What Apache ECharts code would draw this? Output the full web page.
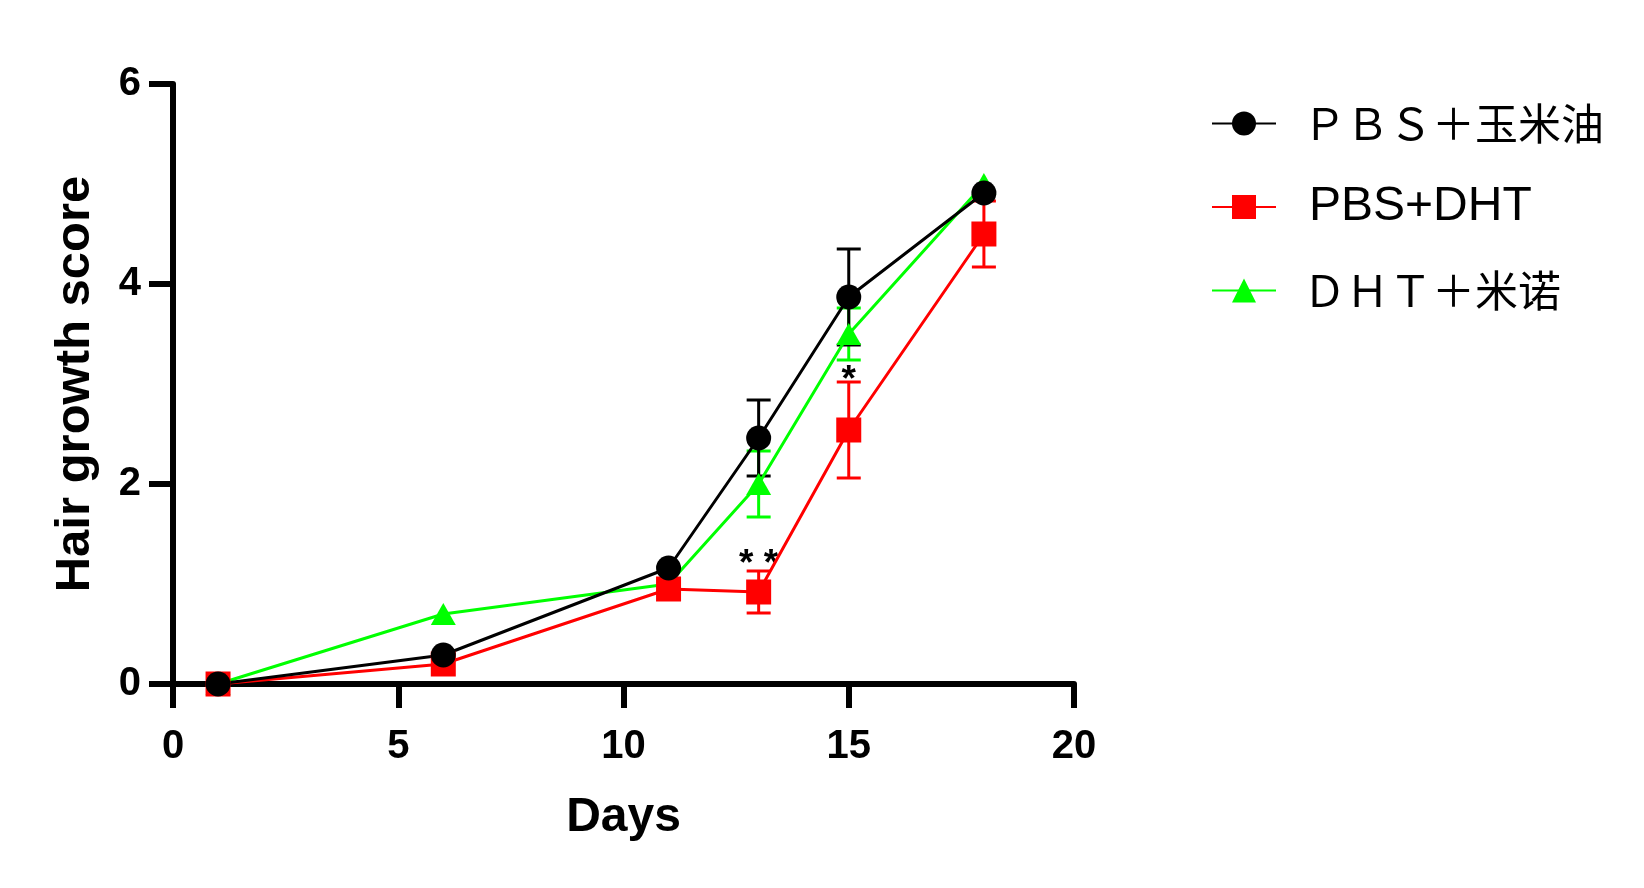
<!DOCTYPE html>
<html>
<head>
<meta charset="utf-8">
<script src="https://cdn.jsdelivr.net/npm/echarts@6/dist/echarts.min.js"></script>
<style>
html,body{margin:0;padding:0;background:#fff;}
#chart{width:1644px;height:888px;}
</style>
</head>
<body>
<div id="chart"></div>
<script>
// ---- data ----
const days = [1, 6, 11, 13, 15, 18];
const seriesNames = ['ＰＢＳ＋玉米油', 'PBS+DHT', 'ＤＨＴ＋米诺'];
const pbsOilMean = [0, 0.29, 1.16, 2.46, 3.87, 4.91];
const pbsOilErr  = [0, 0, 0, 0.38, 0.48, 0];
const pbsDhtMean = [0, 0.20, 0.95, 0.92, 2.54, 4.50];
const pbsDhtErr  = [0, 0, 0, 0.21, 0.48, 0.33];
const dhtMinoMean = [0, 0.70, 1.00, 2.00, 3.50, 5.00];
const dhtMinoErr  = [0, 0, 0, 0.33, 0.26, 0];
const annotDays = [13, 15];
const annotY = [1.27, 3.11];
const annotText = ['* *', '*'];
const xTicks = { min: 0, max: 20, interval: 5 };
const yTicks = { min: 0, max: 6, interval: 2 };

const colors = { oil: '#000000', dht: '#ff0000', mino: '#00ff00' };
const FONT = '"Liberation Sans", Arial, sans-serif';

function pairs(means) { return days.map((d, i) => [d, means[i]]); }
function errData(means, errs) {
  return days.map((d, i) => [d, means[i] - errs[i], means[i] + errs[i], errs[i]]);
}
function errSeries(name, means, errs, color) {
  return {
    type: 'custom',
    name: name + '_err',
    data: errData(means, errs),
    encode: { x: 0, y: [1, 2] },
    silent: true,
    renderItem: function (params, api) {
      if (api.value(3) <= 0) return null;
      const x = api.value(0);
      const lo = api.coord([x, api.value(1)]);
      const hi = api.coord([x, api.value(2)]);
      const hw = 12;
      const st = { stroke: color, lineWidth: 3 };
      return {
        type: 'group',
        children: [
          { type: 'line', shape: { x1: lo[0], y1: lo[1], x2: hi[0], y2: hi[1] }, style: st },
          { type: 'line', shape: { x1: lo[0] - hw, y1: lo[1], x2: lo[0] + hw, y2: lo[1] }, style: st },
          { type: 'line', shape: { x1: hi[0] - hw, y1: hi[1], x2: hi[0] + hw, y2: hi[1] }, style: st }
        ]
      };
    }
  };
}
function lineSeries(name, means, color, symbol, size) {
  return {
    type: 'line',
    name: name,
    data: pairs(means),
    symbol: symbol,
    symbolSize: size,
    showSymbol: true,
    lineStyle: { color: color, width: 3 },
    itemStyle: { color: color, opacity: 1 },
    emphasis: { disabled: true },
    animation: false
  };
}

const chart = echarts.init(document.getElementById('chart'), null, { renderer: 'canvas' });
const option = {
  animation: false,
  backgroundColor: '#ffffff',
  grid: { left: 173, right: 570, top: 84, bottom: 204, containLabel: false },
  xAxis: {
    type: 'value',
    min: xTicks.min, max: xTicks.max, interval: xTicks.interval,
    name: 'Days', nameLocation: 'middle', nameGap: 110,
    nameTextStyle: { fontSize: 48, fontWeight: 'bold', color: '#000', fontFamily: FONT },
    axisLine: { show: true, onZero: false, lineStyle: { color: '#000', width: 6 } },
    axisTick: { show: true, inside: false, length: 24, lineStyle: { color: '#000', width: 6 } },
    axisLabel: { margin: 43, fontSize: 40, fontWeight: 'bold', color: '#000', fontFamily: FONT },
    splitLine: { show: false }
  },
  yAxis: {
    type: 'value',
    min: yTicks.min, max: yTicks.max, interval: yTicks.interval,
    name: 'Hair growth score', nameLocation: 'middle', nameGap: 73, nameRotate: 90,
    nameTextStyle: { fontSize: 49, fontWeight: 'bold', color: '#000', fontFamily: FONT },
    axisLine: { show: true, onZero: false, lineStyle: { color: '#000', width: 6 } },
    axisTick: { show: true, inside: false, length: 24, lineStyle: { color: '#000', width: 6 } },
    axisLabel: { margin: 32, fontSize: 40, fontWeight: 'bold', color: '#000', fontFamily: FONT },
    splitLine: { show: false }
  },
  legend: {
    orient: 'vertical',
    left: 1211, top: 102,
    padding: 0,
    itemWidth: 64, itemHeight: 30, itemGap: 38,
    data: seriesNames,
    selectedMode: false,
    formatter: function (name) {
      return name === 'PBS+DHT' ? '{en|' + name + '}' : '{cn|' + name + '}';
    },
    textStyle: {
      color: '#000',
      rich: {
        en: { fontSize: 48, fontFamily: FONT, color: '#000', padding: [0, 0, 0, 28], lineHeight: 54 },
        cn: { fontSize: 43, fontFamily: '"Noto Sans CJK SC", sans-serif', color: '#000', padding: [0, 0, 0, 22], lineHeight: 54 }
      }
    }
  },
  series: [
    errSeries('mino', dhtMinoMean, dhtMinoErr, colors.mino),
    lineSeries(seriesNames[2], dhtMinoMean, colors.mino, 'triangle', [25, 22]),
    errSeries('dht', pbsDhtMean, pbsDhtErr, colors.dht),
    lineSeries(seriesNames[1], pbsDhtMean, colors.dht, 'rect', 25),
    errSeries('oil', pbsOilMean, pbsOilErr, colors.oil),
    lineSeries(seriesNames[0], pbsOilMean, colors.oil, 'circle', 25),
    {
      type: 'custom',
      name: 'annot',
      silent: true,
      data: annotDays.map((d, i) => [d, annotY[i], i]),
      encode: { x: 0, y: 1 },
      renderItem: function (params, api) {
        const p = api.coord([api.value(0), api.value(1)]);
        return {
          type: 'text',
          x: p[0], y: p[1] + 8,
          style: {
            text: annotText[api.value(2)],
            x: 0, y: 0,
            fill: '#000',
            font: 'bold 37px ' + FONT,
            align: 'center',
            verticalAlign: 'middle'
          }
        };
      }
    }
  ]
};
chart.setOption(option);
</script>
</body>
</html>
